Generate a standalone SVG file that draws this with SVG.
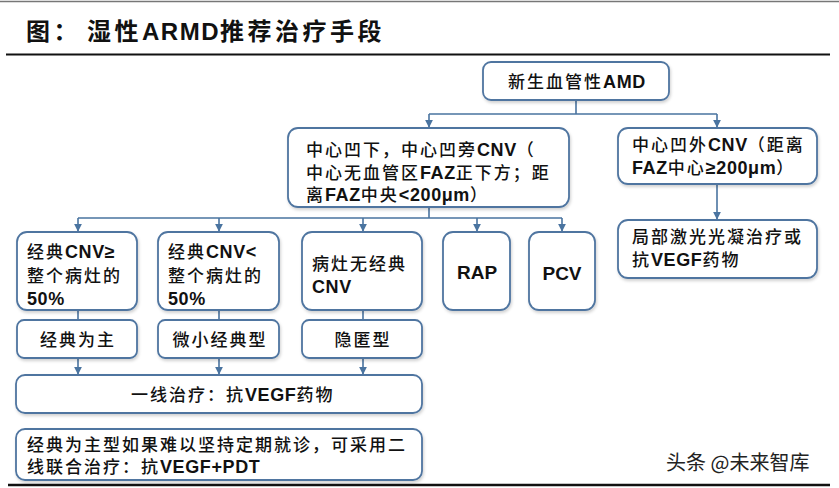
<svg xmlns="http://www.w3.org/2000/svg" width="839" height="488" viewBox="0 0 839 488">
<defs>
<filter id="sh" x="-10%" y="-10%" width="120%" height="130%">
<feDropShadow dx="1" dy="2" stdDeviation="1.5" flood-color="#000" flood-opacity="0.18"/>
</filter>
<marker id="ar" viewBox="0 0 10 10" refX="9" refY="5" markerWidth="5" markerHeight="5" orient="auto">
<path d="M0,0 L10,5 L0,10 z" fill="#4a74a0"/>
</marker>
<style>
.box{fill:#fff;stroke:#4f75a0;stroke-width:1.8;filter:url(#sh)}
.t{font-family:"Liberation Sans","Noto Sans CJK SC",sans-serif;font-size:17px;font-weight:500;letter-spacing:2px;fill:#111}
.b{font-weight:bold;font-size:18px;letter-spacing:0.6px}
.c{text-anchor:middle}
.ln{fill:none;stroke:#4a74a0;stroke-width:1.6}
.a{marker-end:url(#ar)}
</style>
</defs>
<rect width="839" height="488" fill="#fff"/>
<line x1="0" y1="1.5" x2="839" y2="1.5" stroke="#777" stroke-width="1.5"/>
<text x="26" y="40" font-family="'Liberation Sans','Noto Sans CJK SC',sans-serif" font-size="24" font-weight="bold" letter-spacing="3.5" fill="#111">图：<tspan dx="6">湿性</tspan><tspan letter-spacing="1.5">ARMD</tspan>推荐治疗手段</text>
<line x1="6" y1="54.5" x2="830" y2="54.5" stroke="#111" stroke-width="2.2"/>
<line x1="8" y1="485" x2="830" y2="485" stroke="#111" stroke-width="2.5"/>

<g id="connectors">
<path class="ln" d="M576,100 V114 M429,114 H717"/>
<path class="ln a" d="M429,114 V127"/>
<path class="ln a" d="M717,114 V127"/>
<path class="ln" d="M429,207 V218 M78,218 H562"/>
<path class="ln a" d="M78,218 V231"/>
<path class="ln a" d="M219,218 V231"/>
<path class="ln a" d="M363,218 V231"/>
<path class="ln a" d="M477,218 V231"/>
<path class="ln a" d="M562,218 V231"/>
<path class="ln a" d="M717,184 V219"/>
<path class="ln" d="M78,310 V320 M219,310 V320 M363,310 V320"/>
<path class="ln a" d="M78,358 V374"/>
<path class="ln a" d="M219,358 V374"/>
<path class="ln a" d="M363,358 V374"/>
</g>

<g id="n_amd">
<rect class="box" x="483" y="62" width="186" height="38" rx="8"/>
<text class="t c" x="577" y="88">新生血管性<tspan class="b">AMD</tspan></text>
</g>
<g id="n_sub">
<rect class="box" x="288" y="128" width="281" height="79" rx="10"/>
<text class="t" x="306" y="156">中心凹下，中心凹旁<tspan class="b">CNV</tspan>（</text>
<text class="t" x="306" y="179">中心无血管区<tspan class="b">FAZ</tspan>正下方；距</text>
<text class="t" x="306" y="201">离<tspan class="b">FAZ</tspan>中央<tspan class="b">&lt;200μm</tspan>）</text>
</g>
<g id="n_ext">
<rect class="box" x="618" y="128" width="199" height="56" rx="10"/>
<text class="t" x="632" y="151">中心凹外<tspan class="b">CNV</tspan>（距离</text>
<text class="t" x="632" y="174"><tspan class="b">FAZ</tspan>中心<tspan class="b">≥200μm</tspan>）</text>
</g>
<g id="n_laser">
<rect class="box" x="618" y="220" width="199" height="58" rx="10"/>
<text class="t" x="632" y="243">局部激光光凝治疗或</text>
<text class="t" x="632" y="266">抗<tspan class="b">VEGF</tspan>药物</text>
</g>
<g id="n_c1">
<rect class="box" x="17" y="232" width="120" height="78" rx="10"/>
<text class="t" x="27" y="258">经典<tspan class="b">CNV≥</tspan></text>
<text class="t" x="27" y="282">整个病灶的</text>
<text class="t b" x="27" y="305">50%</text>
</g>
<g id="n_c2">
<rect class="box" x="158" y="232" width="121" height="78" rx="10"/>
<text class="t" x="168" y="258">经典<tspan class="b">CNV&lt;</tspan></text>
<text class="t" x="168" y="282">整个病灶的</text>
<text class="t b" x="168" y="305">50%</text>
</g>
<g id="n_c3">
<rect class="box" x="302" y="232" width="120" height="78" rx="10"/>
<text class="t" x="312" y="270">病灶无经典</text>
<text class="t b" x="312" y="293">CNV</text>
</g>
<g id="n_rap">
<rect class="box" x="443" y="232" width="67" height="78" rx="10"/>
<text class="t b c" x="477" y="279" style="font-size:19px;letter-spacing:0">RAP</text>
</g>
<g id="n_pcv">
<rect class="box" x="529" y="232" width="66" height="78" rx="10"/>
<text class="t b c" x="562" y="280" style="font-size:19px;letter-spacing:0">PCV</text>
</g>
<g id="n_t1">
<rect class="box" x="17" y="320" width="120" height="38" rx="7"/>
<text class="t c" x="78" y="346">经典为主</text>
</g>
<g id="n_t2">
<rect class="box" x="158" y="320" width="121" height="38" rx="7"/>
<text class="t c" x="220" y="346">微小经典型</text>
</g>
<g id="n_t3">
<rect class="box" x="302" y="320" width="120" height="38" rx="7"/>
<text class="t c" x="363" y="346">隐匿型</text>
</g>
<g id="n_first">
<rect class="box" x="16" y="375" width="406" height="38" rx="9"/>
<text class="t" x="131" y="401">一线治疗：抗<tspan class="b">VEGF</tspan>药物</text>
</g>
<g id="n_second">
<rect class="box" x="16" y="429" width="406" height="51" rx="9"/>
<text class="t" x="27" y="451">经典为主型如果难以坚持定期就诊，可采用二</text>
<text class="t" x="27" y="473">线联合治疗：抗<tspan class="b">VEGF+PDT</tspan></text>
</g>
<text x="666" y="470" font-family="'Noto Sans CJK SC','Liberation Sans',sans-serif" font-size="20" fill="#222">头条 @未来智库</text>
</svg>
